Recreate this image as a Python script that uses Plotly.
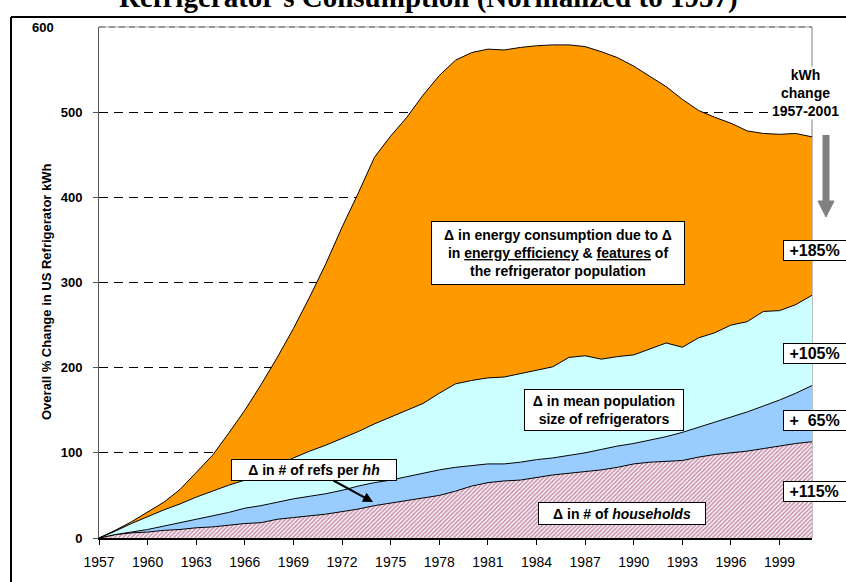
import plotly.graph_objects as go

# years on the category axis
years = list(range(1957, 2002))

# cumulative top of each stacked layer (% change vs 1957)
households = [0, 4, 6, 7, 9, 10, 12, 13, 15, 17, 18, 22, 24, 26, 28, 31, 34, 38, 41, 44,
              47, 50, 55, 61, 65, 67, 68, 71, 74, 76, 78, 80, 83, 87, 89, 90, 91, 95, 98, 100,
              102, 105, 108, 111, 113]
refs_per_hh = [0, 4, 7, 10, 14, 18, 22, 26, 30, 35, 38, 42, 46, 49, 52, 56, 61, 65, 68, 72,
               76, 80, 83, 85, 87, 87, 89, 92, 94, 97, 100, 104, 108, 111, 115, 119, 124, 130, 136, 142,
               148, 155, 162, 170, 179]
mean_size = [0, 8, 17, 25, 33, 40, 48, 55, 62, 68, 76, 85, 94, 102, 109, 117, 125, 134, 142, 150,
             158, 170, 181, 185, 188, 189, 193, 197, 201, 212, 214, 210, 213, 215, 222, 229, 224, 235, 241, 250,
             254, 266, 267, 274, 285]
efficiency = [0, 9, 19, 30, 42, 57, 77, 97, 123, 150, 180, 212, 246, 283, 322, 365, 405, 447, 472, 494,
              520, 543, 561, 570, 574, 573, 576, 578, 579, 579, 577, 571, 564, 554, 542, 530, 515, 502, 494, 487,
              478, 475, 474, 475, 471]

x_ticks = list(range(1957, 2000, 3))
y_ticks = [0, 100, 200, 300, 400, 500]
pct_labels = ["+185%", "+105%", "+\u00a0\u00a065%", "+115%"]

SANS = "Arial, Liberation Sans, sans-serif"
SERIF = "Times New Roman, Liberation Serif, serif"

# plot-area pixel box, used to place the decorations
L, R, T, B = 99, 812, 27, 538


def px(x):
    return (x - L) / (R - L)


def py(y):
    return (B - y) / (B - T)


fig = go.Figure()
fig.add_trace(go.Scatter(
    x=years, y=households, mode="lines", fill="tozeroy",
    line=dict(color="black", width=1),
    fillpattern=dict(shape="/", fgcolor="#993366", bgcolor="white", size=3, solidity=0.6),
    fillcolor="white",
))
fig.add_trace(go.Scatter(
    x=years, y=refs_per_hh, mode="lines", fill="tonexty",
    line=dict(color="black", width=1), fillcolor="#99CCFF",
))
fig.add_trace(go.Scatter(
    x=years, y=mean_size, mode="lines", fill="tonexty",
    line=dict(color="black", width=1), fillcolor="#CCFFFF",
))
fig.add_trace(go.Scatter(
    x=years, y=efficiency, mode="lines", fill="tonexty",
    line=dict(color="black", width=1), fillcolor="#FF9900",
))

annotations = [
    dict(text="<b>Refrigerator's Consumption (Normalized to 1957)</b>",
         x=px(428), y=py(16), xanchor="center", yanchor="bottom",
         font=dict(family=SERIF, size=29, color="black")),
    dict(text="<b>Overall % Change in US Refrigerator kWh</b>", textangle=-90,
         x=px(46), y=py(292), xanchor="center", yanchor="middle",
         font=dict(family=SANS, size=13, color="black")),
    dict(text="<b>600</b>", x=px(56), y=py(27), xanchor="right", yanchor="middle",
         font=dict(family=SANS, size=13, color="black")),
    dict(text="<b>kWh<br>change<br>1957-2001</b>", x=px(805), y=py(93),
         xanchor="center", yanchor="middle", bgcolor="white", borderpad=0,
         font=dict(family=SANS, size=14, color="black")),
    dict(text="<b>\u0394 in energy consumption due to \u0394<br>in <u>energy efficiency</u> & "
              "<u>features</u> of<br>the refrigerator population</b>",
         x=px(558), y=py(253), xanchor="center", yanchor="middle",
         width=246, height=56, borderpad=3,
         bgcolor="white", bordercolor="black", borderwidth=1,
         font=dict(family=SANS, size=14, color="black")),
    dict(text="<b>\u0394 in mean population<br>size of refrigerators</b>",
         x=px(604), y=py(410), xanchor="center", yanchor="middle",
         width=154, height=36, borderpad=2,
         bgcolor="white", bordercolor="black", borderwidth=1,
         font=dict(family=SANS, size=14, color="black")),
    dict(text="<b>\u0394 in # of <i>households</i></b>",
         x=px(622), y=py(513), xanchor="center", yanchor="middle",
         width=162, height=17, borderpad=2,
         bgcolor="white", bordercolor="black", borderwidth=1,
         font=dict(family=SANS, size=14, color="black")),
    dict(text="<b>\u0394 in # of refs per <i>hh</i></b>",
         x=px(373), y=py(502), xref="paper", yref="paper",
         ax=314 - 373, ay=470 - 502, showarrow=True,
         arrowhead=2, arrowsize=1, arrowwidth=2, arrowcolor="black",
         width=160, height=16, borderpad=2,
         bgcolor="white", bordercolor="black", borderwidth=1,
         font=dict(family=SANS, size=14, color="black")),
]

for label, yc in zip(pct_labels, [250, 353, 420, 491]):
    annotations.append(dict(
        text="<b>\u00a0" + label + "</b>", x=px(783), y=py(yc),
        xanchor="left", yanchor="middle", align="left",
        width=72, height=17, borderpad=1,
        bgcolor="white", bordercolor="black", borderwidth=1,
        font=dict(family=SANS, size=16, color="black")))

for a in annotations:
    a.setdefault("xref", "paper")
    a.setdefault("yref", "paper")
    a.setdefault("showarrow", False)

shapes = [
    # outer chart border (only left and top are inside the crop)
    dict(type="line", x0=px(11), x1=px(860), y0=py(17), y1=py(17), line=dict(color="black", width=2)),
    dict(type="line", x0=px(11), x1=px(11), y0=py(17), y1=py(600), line=dict(color="black", width=2)),
    # plot-area border top/right
    dict(type="line", x0=0, x1=1, y0=1, y1=1, line=dict(color="#a0a0a0", width=1)),
    dict(type="line", x0=0, x1=1, y0=1, y1=1, line=dict(color="#606060", width=1, dash="6px,4px")),
    dict(type="line", x0=1, x1=1, y0=0, y1=1, line=dict(color="#808080", width=1), layer="below"),
    # grey arrow under "kWh change"
    dict(type="line", x0=px(826), x1=px(826), y0=py(135), y1=py(203), line=dict(color="#808080", width=7)),
    dict(type="path", path="M %f %f L %f %f L %f %f Z" % (px(818), py(201), px(834), py(201), px(826), py(217)),
         fillcolor="#808080", line=dict(color="#808080", width=1)),
]
for s in shapes:
    s["xref"] = "paper"
    s["yref"] = "paper"

fig.update_layout(
    width=846, height=582,
    margin=dict(l=L, r=846 - R, t=T, b=582 - B),
    paper_bgcolor="white", plot_bgcolor="white",
    showlegend=False,
    font=dict(family=SANS, color="black"),
    xaxis=dict(
        range=[1957, 2001], tickvals=x_ticks, showgrid=False, zeroline=False,
        showline=True, linecolor="black", linewidth=1.5,
        ticks="outside", ticklen=5, tickcolor="black",
        ticklabelstandoff=5,
        tickfont=dict(family=SANS, size=14, color="black"),
    ),
    yaxis=dict(
        range=[0, 600], tickvals=y_ticks, ticktext=["<b>%d</b>" % v for v in y_ticks],
        showgrid=True, gridcolor="black", gridwidth=1, griddash="9px,6px", zeroline=False,
        showline=True, linecolor="#555555", linewidth=1,
        ticks="outside", ticklen=5, tickcolor="#555555",
        ticklabelstandoff=8,
        tickfont=dict(family=SANS, size=13, color="black"),
    ),
    annotations=annotations,
    shapes=shapes,
)

fig.write_html("out.html", config={"displayModeBar": False},
               post_script="document.body.style.margin='0';")
